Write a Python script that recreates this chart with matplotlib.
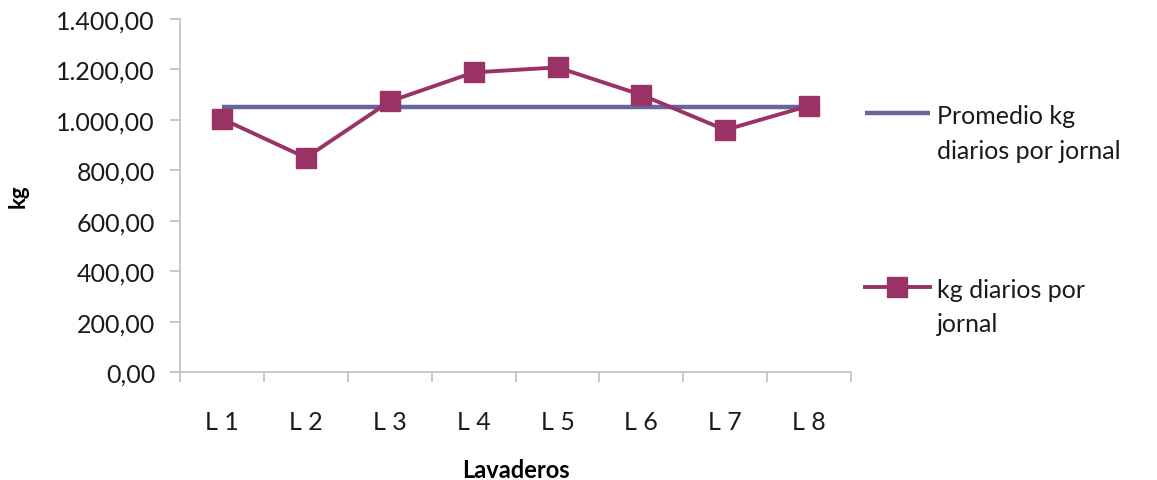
import matplotlib
matplotlib.use("Agg")
import matplotlib.pyplot as plt
from matplotlib.ticker import FuncFormatter, FixedLocator
from matplotlib.legend_handler import HandlerLine2D

plt.rcParams['font.family'] = ['Lato', 'DejaVu Sans']

lavaderos = ["L 1", "L 2", "L 3", "L 4", "L 5", "L 6", "L 7", "L 8"]
kg_diarios = [1004, 850, 1073, 1188, 1208, 1099, 960, 1056]
promedio = [1050, 1050, 1050, 1050, 1050, 1050, 1050, 1050]

c_prom = "#666699"
c_kg = "#993366"
c_axis = "#BFBFBF"
c_text = "#1a1a1a"


def es_fmt(v, pos):
    s = f"{v:,.2f}"
    return s.replace(",", "X").replace(".", ",").replace("X", ".")


class TopLineHandler(HandlerLine2D):
    # put the legend line next to the first row of a two-row label
    def create_artists(self, *args, **kwargs):
        arts = super().create_artists(*args, **kwargs)
        for a in arts:
            a.set_ydata([y + 15 for y in a.get_ydata()])
        return arts


fig = plt.figure(figsize=(11.57, 4.81), dpi=100)
ax = fig.add_axes([0.1556, 0.2245, 0.58, 0.734])

x = list(range(len(lavaderos)))
l1, = ax.plot(x, promedio, color=c_prom, lw=3.2, solid_capstyle='butt',
              label="Promedio kg\ndiarios por jornal")
l2, = ax.plot(x, kg_diarios, color=c_kg, lw=2.8, marker='s', markersize=15,
              markeredgecolor=c_kg, label="kg diarios por\njornal")

ax.set_xlim(-0.5, len(lavaderos) - 0.5)
ax.set_ylim(0, 1400)
ax.set_yticks(range(0, 1401, 200))
ax.yaxis.set_major_formatter(FuncFormatter(es_fmt))

ax.set_xticks(x)
ax.set_xticklabels(lavaderos)
ax.xaxis.set_minor_locator(FixedLocator([i + 0.5 for i in range(-1, len(lavaderos))]))

for s in ["top", "right"]:
    ax.spines[s].set_visible(False)
for s in ["left", "bottom"]:
    ax.spines[s].set_color(c_axis)
    ax.spines[s].set_linewidth(1.2)

ax.tick_params(axis='y', which='major', length=7, width=1.2, color=c_axis,
               labelsize=18, pad=11, labelcolor=c_text)
ax.tick_params(axis='x', which='major', length=0, labelsize=18, pad=27,
               labelcolor=c_text)
ax.tick_params(axis='x', which='minor', length=7, width=1.2, color=c_axis)

ax.set_ylabel("kg", fontsize=16, fontweight='bold', labelpad=20)
ax.set_xlabel("Lavaderos", fontsize=17, fontweight='bold', labelpad=18)

h = TopLineHandler()
leg = fig.legend(handles=[l1, l2], loc='center left',
                 bbox_to_anchor=(0.7476, 0.541), frameon=False,
                 fontsize=18, handlelength=2.6, handletextpad=0.28,
                 labelspacing=4.65, borderpad=0, borderaxespad=0,
                 handler_map={l1: h, l2: h})
for t in leg.get_texts():
    t.set_linespacing(1.6)
    t.set_color(c_text)

fig.savefig("out.png", dpi=100)
